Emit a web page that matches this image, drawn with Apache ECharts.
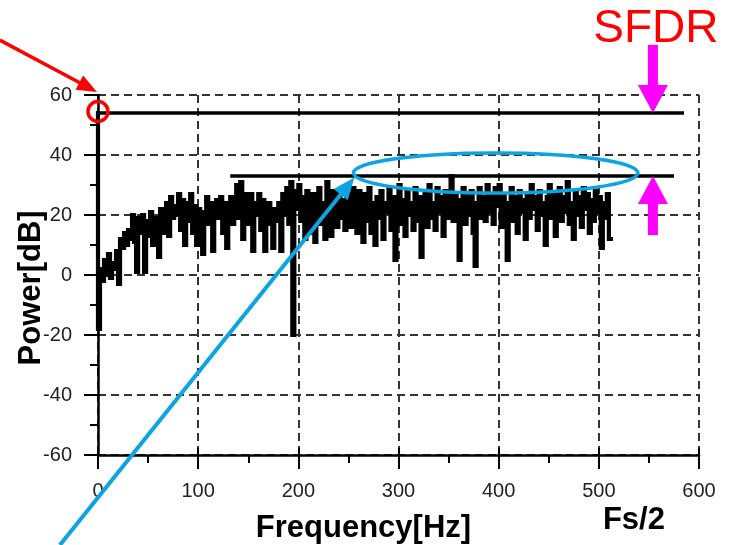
<!DOCTYPE html>
<html>
<head>
<meta charset="utf-8">
<script src="https://cdn.jsdelivr.net/npm/echarts@6/dist/echarts.min.js"></script>
<style>
html,body{margin:0;padding:0;background:#fff;}
#chart{width:729px;height:545px;}
</style>
</head>
<body>
<div id="chart"></div>
<script>
// ---- data ----
const binWidthHz = 2;           // FFT bin spacing (Hz)
const powerDb = [
  54, -18, 2, -2, 5, 0, 7, -1, 4, 2,
  8, -3, 12, 9, 14, 10, 15, 12, 20, 11,
  1, 19, 14, 20, 1, 18, 13, 21, 10, 19,
  16, 6, 22, 17, 14, 24, 13, 26, 19, 23,
  20, 27, 15, 25, 10, 24, 18, 27, 14, 23,
  10, 22, 16, 7, 21, 26, 17, 24, 8, 22,
  25, 19, 26, 14, 24, 9, 21, 26, 17, 23,
  30, 19, 31, 12, 27, 22, 17, 27, 8, 24,
  20, 27, 15, 25, 8, 21, 24, 17, 9, 22,
  18, 24, 8, 27, 20, 29, 17, 31, -20, 28,
  22, 30, 18, 26, 12, 28, 20, 14, 27, 11,
  25, 29, 17, 24, 12, 31, 20, 13, 28, 22,
  16, 28, 19, 25, 15, 27, 21, 16, 29, 20,
  14, 28, 22, 11, 27, 18, 29, 14, 24, 10,
  26, 19, 28, 12, 24, 21, 29, 15, 26, 5,
  23, 30, 17, 25, 13, 28, 20, 24, 15, 29,
  18, 26, 6, 22, 28, 16, 30, 19, 24, 15,
  29, 21, 26, 13, 28, 19, 24, 33, 18, 27,
  22, 5, 25, 29, 17, 27, 20, 28, 14, 3,
  24, 29, 19, 26, 18, 30, 21, 27, 17, 29,
  23, 30, 16, 27, 20, 5, 24, 29, 18, 26,
  14, 28, 21, 25, 12, 27, 19, 30, 22, 26,
  15, 28, 20, 24, 10, 26, 30, 19, 27, 13,
  25, 29, 18, 26, 21, 31, 17, 24, 12, 28,
  20, 26, 16, 29, 22, 27, 14, 25, 18, 28,
  21, 26, 9, 24, 19, 27, 12
];
const xTicks = [0, 100, 200, 300, 400, 500, 600];
const yTicks = [-60, -40, -20, 0, 20, 40, 60];

// annotation anchors (data units: Hz, dB)
const carrierLevel = 54;            // fundamental peak level
const spurLevel = 33;               // highest spur level
const carrierLine = [0, 585];       // Hz extent of carrier line
const spurLine = [132, 575];        // Hz extent of spur line
const circleCenter = [0, 54.5];
const ellipseCenter = [397, 34];
const ellipseRadii = [142, 6.7];    // Hz, dB
const redArrow = [[-98, 78.3], [-1, 61]];
const cyanArrow = [[-38, -90], [256, 32.5]];
const sfdrX = 554;
const sfdrTopArrow = [76.7, 54];
const sfdrBottomArrow = [13.3, 33];
const sfdrLabelPos = [557, 82];
const freqTitlePos = [265, -84.5];
const powerTitlePos = [-66, -4.3];
const fsLabelPos = [535, -81.7];

const seriesData = powerDb.map((v, i) => [i * binWidthHz, v]);

const FONT = "'Liberation Sans', Arial, Helvetica, sans-serif";
const dashed = {color: '#333', width: 2, type: [8, 5]};
const xMin = xTicks[0], xMax = xTicks[xTicks.length - 1];

const chart = echarts.init(document.getElementById('chart'), null, {renderer: 'canvas'});
chart.setOption({
  animation: false,
  backgroundColor: '#fff',
  grid: {left: 98, right: 30, top: 95, bottom: 90, containLabel: false},
  xAxis: [{
    type: 'value', min: xMin, max: xMax, interval: 100, position: 'bottom',
    axisLine: {show: true, onZero: false, lineStyle: {color: '#000', width: 2.5}},
    axisTick: {show: true, length: 14, lineStyle: {color: '#000', width: 2}},
    minorTick: {show: true, splitNumber: 2, length: 8, lineStyle: {color: '#000', width: 2}},
    axisLabel: {color: '#222', fontSize: 20, fontFamily: FONT, margin: 26},
    splitLine: {show: true, lineStyle: dashed}
  }, {
    type: 'value', min: xMin, max: xMax, interval: 100, position: 'bottom', offset: 0,
    axisLine: {show: false, onZero: false},
    axisTick: {show: true, inside: true, length: 7, lineStyle: {color: '#000', width: 2}},
    axisLabel: {show: false},
    splitLine: {show: false}
  }],
  yAxis: {
    type: 'value', min: yTicks[0], max: yTicks[yTicks.length - 1], interval: 20,
    axisLine: {show: true, onZero: false, lineStyle: {color: '#000', width: 2.5}},
    axisTick: {show: true, length: 14, lineStyle: {color: '#000', width: 2}},
    minorTick: {show: true, splitNumber: 2, length: 8, lineStyle: {color: '#000', width: 2}},
    axisLabel: {color: '#222', fontSize: 20, fontFamily: FONT, margin: 26},
    splitLine: {show: true, lineStyle: dashed}
  },
  series: [{
    type: 'line',
    xAxisIndex: 0,
    data: seriesData,
    step: 'start',
    symbol: 'none',
    sampling: null,
    lineStyle: {color: '#000', width: 4.2, join: 'miter', cap: 'square'},
    markLine: {
      silent: true,
      symbol: ['none', 'none'],
      label: {show: false},
      lineStyle: {color: '#000', width: 3.5, type: 'solid'},
      data: [
        [{coord: [carrierLine[0], carrierLevel]}, {coord: [carrierLine[1], carrierLevel]}],
        [{coord: [spurLine[0], spurLevel]}, {coord: [spurLine[1], spurLevel]}]
      ]
    }
  }]
});

function px(p) { return chart.convertToPixel({gridIndex: 0}, p); }

function arrow(from, to, color, width, headLen, headW) {
  const a = px(from), b = px(to);
  const dx = b[0] - a[0], dy = b[1] - a[1];
  const L = Math.hypot(dx, dy), ux = dx / L, uy = dy / L;
  const bx = b[0] - ux * headLen, by = b[1] - uy * headLen;
  const nx = -uy * headW / 2, ny = ux * headW / 2;
  return [
    {type: 'line', z: 100, shape: {x1: a[0], y1: a[1], x2: bx + ux * 2, y2: by + uy * 2},
     style: {stroke: color, lineWidth: width}},
    {type: 'polygon', z: 100, shape: {points: [[b[0], b[1]], [bx + nx, by + ny], [bx - nx, by - ny]]},
     style: {fill: color}}
  ];
}

const cc = px(circleCenter);
const ec = px(ellipseCenter);
const er = px([ellipseCenter[0] + ellipseRadii[0], ellipseCenter[1] + ellipseRadii[1]]);
const sl = px(sfdrLabelPos);
const ft = px(freqTitlePos);
const pt = px(powerTitlePos);
const fs = px(fsLabelPos);

const graphics = [].concat(
  arrow(redArrow[0], redArrow[1], '#ff0000', 3.5, 20, 16),
  [{type: 'circle', z: 100, shape: {cx: cc[0], cy: cc[1], r: 10},
    style: {fill: 'none', stroke: '#ff0000', lineWidth: 3.5}}],
  [{type: 'ellipse', z: 100, shape: {cx: ec[0], cy: ec[1], rx: Math.abs(er[0] - ec[0]), ry: Math.abs(er[1] - ec[1])},
    style: {fill: 'none', stroke: '#0ba5e2', lineWidth: 3.5}}],
  arrow(cyanArrow[0], cyanArrow[1], '#0ba5e2', 4, 22, 18),
  arrow([sfdrX, sfdrTopArrow[0]], [sfdrX, sfdrTopArrow[1]], '#ff00ff', 10, 28, 30),
  arrow([sfdrX, sfdrBottomArrow[0]], [sfdrX, sfdrBottomArrow[1]], '#ff00ff', 10, 28, 30),
  [
    {type: 'text', z: 100, x: sl[0], y: sl[1],
     style: {text: 'SFDR', fill: '#ff0000', font: '46px ' + FONT, align: 'center', verticalAlign: 'middle'}},
    {type: 'text', z: 100, x: ft[0], y: ft[1],
     style: {text: 'Frequency[Hz]', fill: '#000', font: 'bold 31px ' + FONT, align: 'center', verticalAlign: 'middle'}},
    {type: 'text', z: 100, x: pt[0], y: pt[1], rotation: Math.PI / 2,
     style: {text: 'Power[dB]', fill: '#000', font: 'bold 31px ' + FONT, align: 'center', verticalAlign: 'middle'}},
    {type: 'text', z: 100, x: fs[0], y: fs[1],
     style: {text: 'Fs/2', fill: '#000', font: 'bold 31px ' + FONT, align: 'center', verticalAlign: 'middle'}}
  ]
);
chart.setOption({graphic: graphics});
</script>
</body>
</html>
